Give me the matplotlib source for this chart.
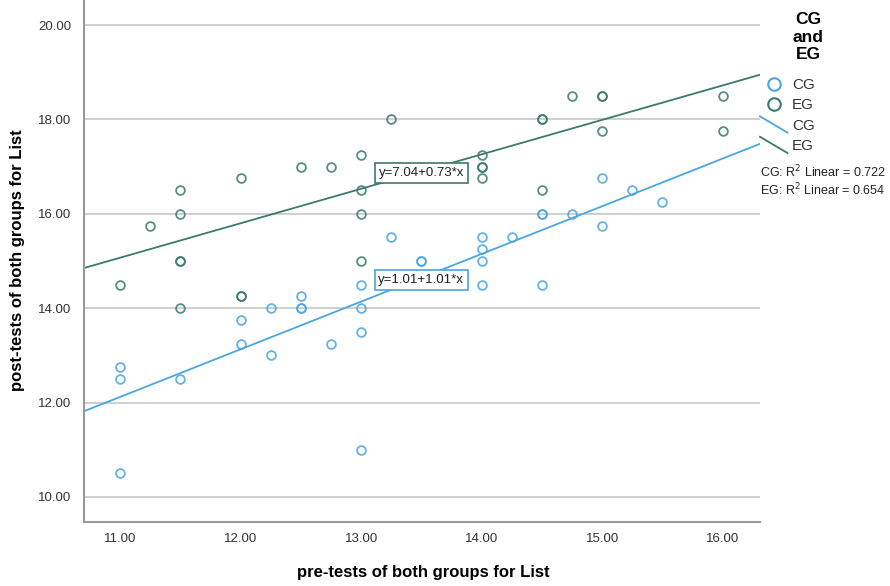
import matplotlib
matplotlib.use("Agg")
import matplotlib.pyplot as plt
import numpy as np
from matplotlib.lines import Line2D
from matplotlib.legend_handler import HandlerLine2D

plt.rcParams['font.family'] = ['Liberation Sans', 'DejaVu Sans']

# pre-test / post-test scores
cg_pre = [11, 11, 11, 11.5, 12, 12, 12.25, 12.25, 12.5, 12.5, 12.5, 12.75,
          13, 13, 13, 13, 13.25, 13.5, 13.5, 14, 14, 14, 14, 14.25,
          14.5, 14.5, 14.5, 14.75, 15, 15, 15.25, 15.5]
cg_post = [12.75, 12.5, 10.5, 12.5, 13.75, 13.25, 14.0, 13.0, 14.25, 14.0, 14.0, 13.25,
           14.5, 14.0, 13.5, 11.0, 15.5, 15.0, 15.0, 15.5, 15.25, 15.0, 14.5, 15.5,
           16.0, 16.0, 14.5, 16.0, 16.75, 15.75, 16.5, 16.25]

eg_pre = [11, 11.25, 11.5, 11.5, 11.5, 11.5, 11.5, 12, 12, 12, 12.5, 12.75,
          13, 13, 13, 13, 13.25, 14, 14, 14, 14, 14.5, 14.5, 14.5,
          14.75, 15, 15, 15, 16, 16]
eg_post = [14.5, 15.75, 16.5, 16.0, 15.0, 15.0, 14.0, 16.75, 14.25, 14.25, 17.0, 17.0,
           17.25, 16.5, 16.0, 15.0, 18.0, 17.25, 17.0, 17.0, 16.75, 18.0, 18.0, 16.5,
           18.5, 18.5, 18.5, 17.75, 18.5, 17.75]

# fit lines as reported on the chart
cg_fit = (1.01, 1.01)
eg_fit = (7.04, 0.73)
cg_r2 = 0.722
eg_r2 = 0.654

x_ticks = [11, 12, 13, 14, 15, 16]
y_ticks = [10, 12, 14, 16, 18, 20]

cg_col = '#4aa6e0'
eg_col = '#3b7a6c'


class DiagHandler(HandlerLine2D):
    # SPSS draws fit-line legend keys as a short slanted stroke
    def create_artists(self, legend, orig_handle, xdescent, ydescent,
                       width, height, fontsize, trans):
        ln = Line2D([-xdescent, width - xdescent],
                    [height - ydescent + 2, -ydescent - 2],
                    color=orig_handle.get_color(), lw=orig_handle.get_linewidth())
        ln.set_transform(trans)
        return [ln]


fig = plt.figure(figsize=(8.9, 5.86), dpi=100)
ax = fig.add_axes([84 / 890, 1 - 522 / 586, (760 - 84) / 890, 522 / 586])

xlim = (10.7, 16.31)
ylim = (9.47, 20.53)
ax.set_xlim(*xlim)
ax.set_ylim(*ylim)

ax.yaxis.grid(True, color='#cccccc', linewidth=1.3)
ax.set_axisbelow(True)

xs = np.array(xlim)
ax.plot(xs, cg_fit[0] + cg_fit[1] * xs, color=cg_col, lw=1.3, zorder=2)
ax.plot(xs, eg_fit[0] + eg_fit[1] * xs, color=eg_col, lw=1.3, zorder=2)

ax.plot(cg_pre, cg_post, 'o', ms=6.3, mfc='none', mec=cg_col, mew=1.3, alpha=0.85, zorder=3)
ax.plot(eg_pre, eg_post, 'o', ms=6.3, mfc='none', mec=eg_col, mew=1.3, alpha=0.85, zorder=3)

ax.text(13.5, 16.86, f"y={eg_fit[0]:.2f}+{eg_fit[1]:.2f}*x", ha='center', va='center',
        fontsize=9.5, color='#222222', zorder=5,
        bbox=dict(boxstyle='square,pad=0.3', fc='white', ec=eg_col, lw=1.2))
ax.text(13.5, 14.6, f"y={cg_fit[0]:.2f}+{cg_fit[1]:.2f}*x", ha='center', va='center',
        fontsize=9.5, color='#222222', zorder=5,
        bbox=dict(boxstyle='square,pad=0.3', fc='white', ec=cg_col, lw=1.2))

ax.set_xticks(x_ticks)
ax.set_yticks(y_ticks)
ax.set_xticklabels([f"{v:.2f}" for v in x_ticks])
ax.set_yticklabels([f"{v:.2f}" for v in y_ticks])
ax.tick_params(length=0, labelsize=9.5, labelcolor='#333333', pad=9)
ax.tick_params(axis='x', pad=8)

for s in ['top', 'right']:
    ax.spines[s].set_visible(False)
for s in ['left', 'bottom']:
    ax.spines[s].set_color('#999999')
    ax.spines[s].set_linewidth(1.5)

fig.text(423 / 890, 1 - 573 / 586, "pre-tests of both groups for List", ha='center',
         va='center', fontsize=12, fontweight='bold')
fig.text(18 / 890, 1 - 260 / 586, "post-tests of both groups for List", ha='center',
         va='center', rotation=90, fontsize=12, fontweight='bold')

# legend
fig.text(808 / 890, 1 - 37 / 586, "CG\nand\nEG", ha='center', va='center',
         fontsize=12.5, fontweight='bold', linespacing=1.2)
handles = [
    Line2D([], [], ls='none', marker='o', ms=9, mfc='none', mec=cg_col, mew=1.5),
    Line2D([], [], ls='none', marker='o', ms=9, mfc='none', mec=eg_col, mew=1.5),
    Line2D([], [], color=cg_col, lw=1.3),
    Line2D([], [], color=eg_col, lw=1.3),
]
leg = fig.legend(handles, ['CG', 'EG', 'CG', 'EG'], loc='upper left',
                 bbox_to_anchor=(760 / 890, 1 - 78 / 586), frameon=False,
                 fontsize=11, handlelength=1.8, handletextpad=0.3,
                 labelspacing=0.42, borderpad=0, borderaxespad=0,
                 handler_map={handles[2]: DiagHandler(), handles[3]: DiagHandler()})
for t in leg.get_texts():
    t.set_color('#333333')

fig.text(760 / 890, 1 - 172 / 586, f"CG: R$^2$ Linear = {cg_r2}", ha='left', va='center',
         fontsize=9, color='#222222')
fig.text(760 / 890, 1 - 190 / 586, f"EG: R$^2$ Linear = {eg_r2}", ha='left', va='center',
         fontsize=9, color='#222222')

fig.savefig("out.png", dpi=100)
